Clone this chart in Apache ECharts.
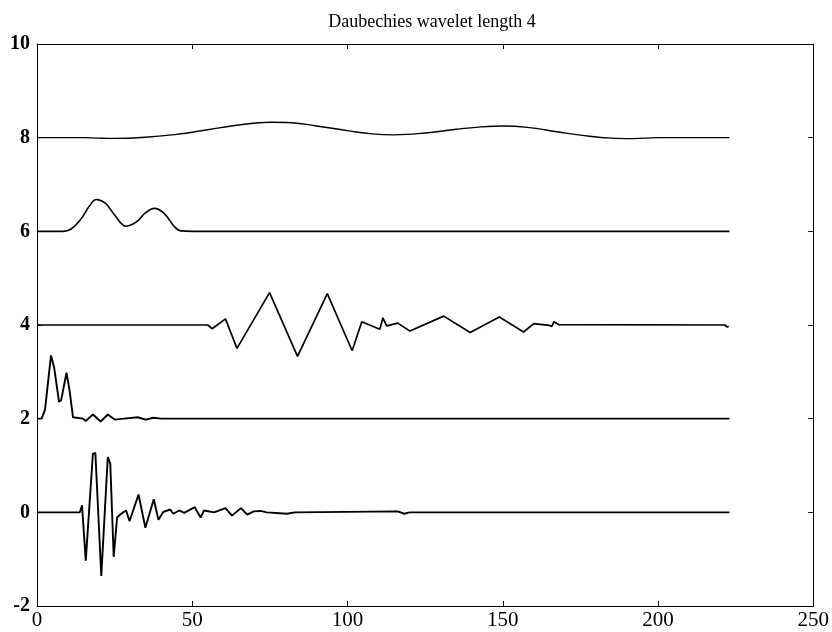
<!DOCTYPE html>
<html>
<head>
<meta charset="utf-8">
<script src="https://cdn.jsdelivr.net/npm/echarts@6/dist/echarts.min.js"></script>
<style>html,body{margin:0;padding:0;background:#fff}#c{width:832px;height:632px}</style>
</head>
<body>
<div id="c"></div>
<script>
var titleText = "Daubechies wavelet length 4";
var xTicks = [0, 50, 100, 150, 200, 250];
var yTicks = [-2, 0, 2, 4, 6, 8, 10];

var level8 = [[0,8],[15,8],[20,7.99],[25,7.985],[35,8.01],[45,8.07],[55,8.17],[65,8.27],[75,8.33],[82,8.32],[90,8.25],[100,8.15],[108,8.08],[115,8.06],[125,8.1],[135,8.18],[143,8.23],[150,8.25],[158,8.22],[168,8.12],[178,8.03],[185,7.99],[192,7.98],[200,8.0],[223,8.0]];

var level6 = [[0,6],[8.4,6],[11,6.05],[14,6.25],[17,6.55],[19.1,6.68],[22,6.6],[25,6.35],[28.7,6.11],[32,6.2],[35,6.4],[37.8,6.49],[41,6.38],[44,6.12],[46.3,6.01],[50,6.0],[223,6.0]];

var level4 = [[0,4],[55,4],[56.4,3.92],[60.7,4.13],[64.4,3.5],[74.9,4.69],[83.9,3.33],[93.5,4.67],[101.5,3.45],[104.6,4.07],[110.4,3.91],[111.4,4.15],[112.6,3.98],[116.2,4.04],[120.1,3.87],[131,4.19],[139.5,3.84],[148.9,4.17],[156.7,3.85],[160,4.03],[165,3.99],[165.8,3.97],[166.5,4.07],[168,4.01],[221.5,4.0],[222.2,3.96],[222.8,3.97]];

var level2 = [[0,2],[1.5,2.0],[2.6,2.2],[4.5,3.35],[5.5,3.1],[7.1,2.36],[7.8,2.4],[9.5,2.98],[10.5,2.6],[11.6,2.03],[14.8,2.0],[15.7,1.95],[18,2.09],[20.5,1.94],[22.8,2.09],[25,1.98],[28,2.0],[32.4,2.03],[35,1.98],[37.5,2.02],[40,2.0],[223,2.0]];

var level0 = [[0,0],[13.8,0],[14.5,0.15],[15.7,-1.03],[18,1.25],[18.8,1.27],[20.7,-1.36],[22.8,1.18],[23.6,1.04],[24.7,-0.95],[25.8,-0.11],[27.1,-0.03],[28.7,0.04],[29.8,-0.19],[32.7,0.38],[34.9,-0.33],[37.6,0.28],[39.1,-0.16],[40.7,0.01],[42.9,0.06],[43.9,-0.03],[45.8,0.04],[47.4,-0.01],[50.8,0.11],[52.7,-0.11],[53.8,0.04],[57,0.0],[60.7,0.09],[62.8,-0.07],[65.7,0.09],[67.7,-0.05],[69.8,0.02],[72,0.03],[74,0.0],[80.5,-0.03],[83,0.0],[116.2,0.02],[118.3,-0.03],[120,0],[223,0]];

var font = "'Liberation Serif', 'DejaVu Serif', serif";
var chart = echarts.init(document.getElementById('c'), null, {renderer: 'canvas'});

function axisBase(show) {
  return {
    axisLine: {show: true, onZero: false, lineStyle: {color: '#000', width: 1}},
    axisTick: {show: true, inside: true, length: 5, lineStyle: {color: '#000'}},
    splitLine: {show: false},
    axisLabel: {show: show}
  };
}

function lineSeries(data, smooth, width) {
  return {
    type: 'line', data: data, smooth: smooth, showSymbol: false, symbol: 'none',
    lineStyle: {color: '#000', width: width}, animation: false
  };
}

var xMain = axisBase(true);
xMain.type = 'value'; xMain.min = xTicks[0]; xMain.max = xTicks[xTicks.length-1]; xMain.interval = 50; xMain.position = 'bottom';
xMain.axisLabel = {show: true, color: '#000', fontFamily: font, fontSize: 21, margin: 4};
var xTop = axisBase(false);
xTop.type = 'value'; xTop.min = xTicks[0]; xTop.max = xTicks[xTicks.length-1]; xTop.interval = 50; xTop.position = 'top';

var yMain = axisBase(true);
yMain.type = 'value'; yMain.min = yTicks[0]; yMain.max = yTicks[yTicks.length-1]; yMain.interval = 2; yMain.position = 'left';
yMain.axisLabel = {show: true, color: '#000', fontFamily: font, fontSize: 20, fontWeight: 'bold', margin: 7};
var yRight = axisBase(false);
yRight.type = 'value'; yRight.min = yTicks[0]; yRight.max = yTicks[yTicks.length-1]; yRight.interval = 2; yRight.position = 'right';

chart.setOption({
  backgroundColor: '#fff',
  animation: false,
  title: {text: titleText, left: 427, top: 8, textAlign: 'center',
    textStyle: {fontFamily: font, fontSize: 18, fontWeight: 'normal', color: '#000'}},
  grid: {left: 37, right: 14, top: 44, bottom: 26, containLabel: false},
  xAxis: [xMain, xTop],
  yAxis: [yMain, yRight],
  series: [
    lineSeries(level8, 0.4, 1.4),
    lineSeries(level6, 0.4, 1.6),
    lineSeries(level4, false, 1.7),
    lineSeries(level2, false, 1.9),
    lineSeries(level0, false, 1.9)
  ]
});
</script>
</body>
</html>
